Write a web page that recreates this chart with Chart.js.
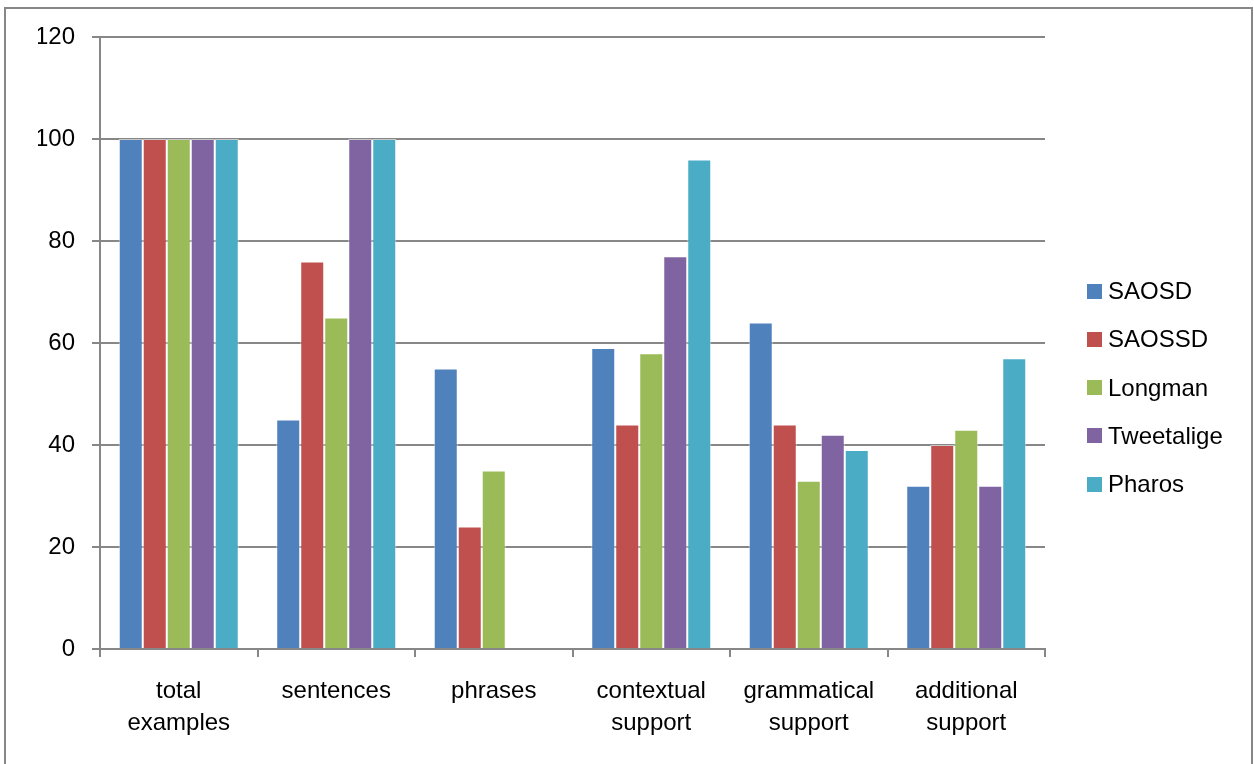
<!DOCTYPE html>
<html>
<head>
<meta charset="utf-8">
<script src="https://cdn.jsdelivr.net/npm/chart.js@4"></script>
<style>
  html, body { margin: 0; padding: 0; background: #fff; }
  #wrap { position: relative; width: 1254px; height: 764px; overflow: hidden; }
  #frame {
    position: absolute; left: 4px; top: 7px; width: 1245px; height: 800px;
    border: 2px solid #878787; border-bottom: none; pointer-events: none;
  }
  #legend {
    position: absolute; left: 1087px; top: 267px;
    font-family: 'Liberation Sans', Arial, sans-serif; font-size: 24px; color: #000;
  }
  .item { height: 48.25px; display: flex; align-items: center; }
  .box { width: 15px; height: 15px; margin-right: 6px; }
</style>
</head>
<body>
<div id="wrap">
  <canvas id="chart"></canvas>
  <div id="frame"></div>
  <div id="legend"></div>
</div>
<script>
// Data
const categories = [
    ['total', 'examples'],
    'sentences',
    'phrases',
    ['contextual', 'support'],
    ['grammatical', 'support'],
    ['additional', 'support']
];
const seriesNames = ['SAOSD', 'SAOSSD', 'Longman', 'Tweetalige', 'Pharos'];
const saosd      = [100, 45, 55, 59, 64, 32];
const saossd     = [100, 76, 24, 44, 44, 40];
const longman    = [100, 65, 35, 58, 33, 43];
const tweetalige = [100, 100, 0, 77, 42, 32];
const pharos     = [100, 100, 0, 96, 39, 57];
const yTicks = [0, 20, 40, 60, 80, 100, 120];

const colors = ['#4F81BD', '#C0504D', '#9BBB59', '#8064A2', '#4BACC6'];
const seriesValues = [saosd, saossd, longman, tweetalige, pharos];

const gridGray = '#878787';

Chart.defaults.font.family = "'Liberation Sans', Arial, sans-serif";
Chart.defaults.font.size = 24;
Chart.defaults.color = '#000';

const datasets = seriesNames.map((name, i) => ({
    label: name,
    data: seriesValues[i],
    backgroundColor: colors[i],
    borderColor: 'rgba(255,255,255,0.55)',
    borderWidth: 1,
    barPercentage: 1,
    categoryPercentage: 0.762
}));

const ctx = document.getElementById('chart').getContext('2d');
const chart = new Chart(ctx, {
    type: 'bar',
    data: { labels: categories, datasets },
    options: {
        responsive: true,
        maintainAspectRatio: false,
        animation: false,
        layout: { padding: { left: 38, right: 209, top: 37, bottom: 25 } },
        plugins: {
            legend: { display: false },
            tooltip: { enabled: false }
        },
        scales: {
            x: {
                grid: {
                    offset: true,
                    drawOnChartArea: false,
                    drawTicks: true,
                    tickLength: 8,
                    color: gridGray,
                    lineWidth: 2
                },
                border: { display: true, color: gridGray, width: 2 },
                ticks: {
                    padding: 18,
                    maxRotation: 0,
                    autoSkip: false,
                    font: { size: 24, lineHeight: 1.333 }
                },
                afterFit: scale => { scale.height = 90; }
            },
            y: {
                min: 0,
                max: 120,
                afterBuildTicks: scale => {
                    scale.ticks = yTicks.map(v => ({ value: v }));
                },
                grid: {
                    color: gridGray,
                    lineWidth: 2,
                    tickLength: 8
                },
                border: { display: true, color: gridGray, width: 2 },
                ticks: { padding: 17, font: { size: 24 } },
                afterFit: scale => { scale.width = 62; }
            }
        }
    }
});

// HTML legend built from the datasets
const legendEl = document.getElementById('legend');
legendEl.innerHTML = chart.data.datasets.map(ds => `
    <div class="item"><span class="box" style="background:${ds.backgroundColor}"></span>${ds.label}</div>
`).join('');
</script>
</body>
</html>
